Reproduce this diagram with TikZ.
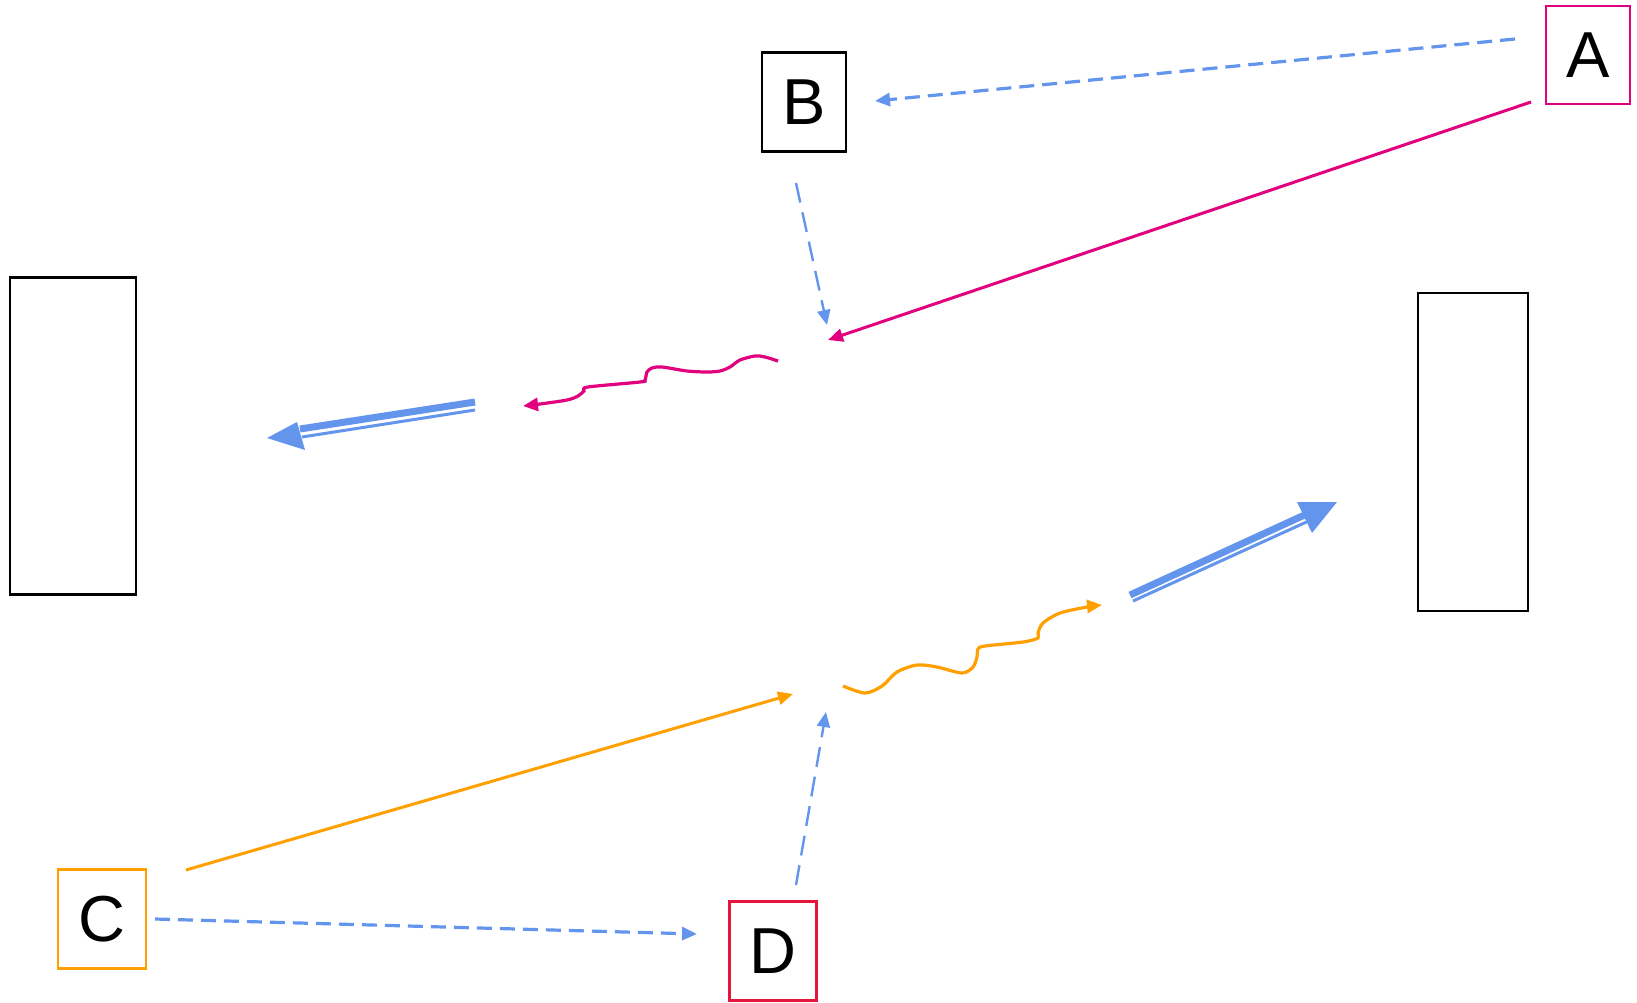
\documentclass[tikz,border=0pt]{standalone}
\usepackage{fontspec}
\setmainfont{Liberation Sans}
\usetikzlibrary{arrows.meta}
\definecolor{cblue}{RGB}{100,149,237}
\definecolor{cmag}{RGB}{225,0,125}
\definecolor{corange}{RGB}{255,160,0}
\definecolor{cred}{RGB}{230,20,60}
\tikzset{
  letterbox/.style={draw, line width=2.8pt, inner sep=0pt, font=\fontsize{65}{65}\selectfont},
  emptybox/.style={draw, line width=2.8pt, inner sep=0pt},
  tip/.style={-{Triangle[length=15pt,width=13pt]}},
  dashA/.style={cblue, line width=3.2pt, dash pattern=on 15pt off 8pt, tip},
  dashB/.style={cblue, line width=2.4pt, dash pattern=on 20pt off 10pt, tip},
  solidc/.style={line width=3pt, tip},
  wavy/.style={line width=3.2pt, tip},
  thickline/.style={cblue, line width=7pt},
  thinline/.style={cblue, line width=3pt},
}
\begin{document}
\begin{tikzpicture}[x=1pt,y=-1pt]
\useasboundingbox (0,0) rectangle (1637,1002);
% boxes
\node[letterbox, cmag, minimum width=84pt, minimum height=98pt, text=black] (A) at (1588,55) {A};
\node[letterbox, black, minimum width=84pt, minimum height=99pt] (B) at (804,102) {B};
\node[letterbox, corange, minimum width=88pt, minimum height=99pt, text=black] (C) at (102,919) {C};
\node[letterbox, cred, minimum width=87pt, minimum height=99pt, text=black] (D) at (773,951) {D};
\node[emptybox, minimum width=126pt, minimum height=317pt] (L) at (73,436) {};
\node[emptybox, minimum width=110pt, minimum height=318pt] (R) at (1473,452) {};
% connector ends
\coordinate (a1) at (1515,39);  \coordinate (b1) at (875,101);
\coordinate (a2) at (1531,102); \coordinate (p1) at (828,340);
\coordinate (b2) at (796,183);  \coordinate (p1b) at (827,325);
\coordinate (c1) at (186,870);  \coordinate (p3) at (793,694);
\coordinate (d1) at (796,885);  \coordinate (p3b) at (826,712);
\coordinate (c2) at (155,919);  \coordinate (d2) at (697,934);
% dashed / solid connectors
\draw[dashA] (a1) -- (b1);
\draw[solidc, cmag] (a2) -- (p1);
\draw[dashB] (b2) -- (p1b);
\draw[solidc, corange] (c1) -- (p3);
\draw[dashB] (d1) -- (p3b);
\draw[dashA] (c2) -- (d2);
% wavy lines
\draw[wavy, cmag] plot[smooth, tension=0.5] coordinates {(778,361) (765,357) (755,356) (740,360) (730,367) (720,371) (707,372) (687,371) (662,367) (652,368) (647,372) (645,380) (640,382) (588,387) (584,391) (578,396) (567,400) (540,404) (523,406)};
\draw[wavy, corange] plot[smooth, tension=0.5] coordinates {(843,686) (865,693) (882,686) (897,672) (917,665) (937,667) (962,673) (973,667) (977,657) (978,649) (985,646) (1023,642) (1038,638) (1038,633) (1043,623) (1060,613) (1087,607) (1102,605)};
% double arrows
\coordinate (l1) at (475,402); \coordinate (l2) at (300,429);
\coordinate (l3) at (475,410); \coordinate (l4) at (302,437);
\coordinate (lt) at (267,438); \coordinate (lc1) at (297,422); \coordinate (lc2) at (305,450);
\draw[thickline] (l1) -- (l2);
\draw[thinline] (l3) -- (l4);
\fill[cblue] (lt) -- (lc1) -- (lc2) -- cycle;
\coordinate (r1) at (1130,595); \coordinate (r2) at (1311,512);
\coordinate (r3) at (1133,601); \coordinate (r4) at (1313,519);
\coordinate (rt) at (1337,502); \coordinate (rc1) at (1297,502); \coordinate (rc2) at (1312,533);
\draw[thickline] (r1) -- (r2);
\draw[thinline] (r3) -- (r4);
\fill[cblue] (rt) -- (rc1) -- (rc2) -- cycle;
\end{tikzpicture}
\end{document}
